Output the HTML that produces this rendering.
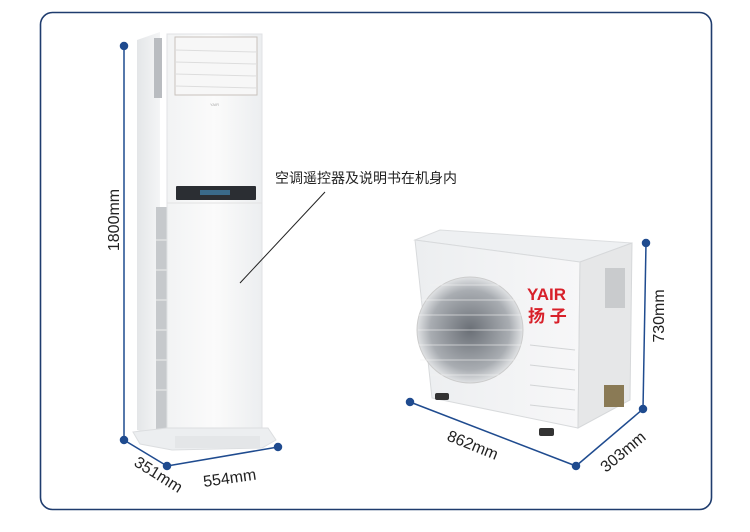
<!DOCTYPE html>
<html><head><meta charset="utf-8"><style>
html,body{margin:0;padding:0;background:#fff;}
svg{display:block;font-family:"Liberation Sans","Noto Sans CJK SC",sans-serif;}
</style></head><body>
<svg width="750" height="532" viewBox="0 0 750 532" xmlns="http://www.w3.org/2000/svg">
<defs>
<linearGradient id="side" x1="0" x2="1"><stop offset="0" stop-color="#e4e6e8"/><stop offset="1" stop-color="#f4f5f6"/></linearGradient>
<linearGradient id="front" x1="0" x2="1"><stop offset="0" stop-color="#f2f3f4"/><stop offset="0.5" stop-color="#fbfbfb"/><stop offset="1" stop-color="#eceef0"/></linearGradient>
<linearGradient id="od" x1="0" x2="1"><stop offset="0" stop-color="#eceef0"/><stop offset="1" stop-color="#f7f7f8"/></linearGradient>
<radialGradient id="fan"><stop offset="0" stop-color="#6a6f76"/><stop offset="0.75" stop-color="#a9adb2"/><stop offset="1" stop-color="#e0e2e4"/></radialGradient>
</defs>
<rect x="40.5" y="12.5" width="671" height="497" rx="12" fill="#fff" stroke="#1f3c6e" stroke-width="1.6"/>

<!-- Tower unit -->
<polygon points="137,40 160,32 160,437 137,430" fill="url(#side)"/>
<rect x="154" y="38" width="8" height="60" fill="#b9bcc0"/>
<rect x="156" y="207" width="11" height="225" fill="#c6c9cc"/>
<g stroke="#eee" stroke-width="1"><line x1="156" y1="240" x2="167" y2="240"/><line x1="156" y1="270" x2="167" y2="270"/><line x1="156" y1="300" x2="167" y2="300"/><line x1="156" y1="330" x2="167" y2="330"/><line x1="156" y1="360" x2="167" y2="360"/><line x1="156" y1="390" x2="167" y2="390"/></g>
<rect x="167" y="34" width="95" height="404" fill="url(#front)" stroke="#e0e2e4"/>
<rect x="175" y="37" width="82" height="58" fill="#f7f7f7" stroke="#c8c2bc"/>
<g stroke="#ddd"><line x1="175" y1="50" x2="257" y2="52"/><line x1="175" y1="62" x2="257" y2="64"/><line x1="175" y1="74" x2="257" y2="76"/><line x1="175" y1="86" x2="257" y2="88"/></g>
<rect x="176" y="186" width="80" height="14" fill="#2b2e33" rx="1"/>
<rect x="200" y="190" width="30" height="5" fill="#3a6a8a"/>
<line x1="167" y1="203" x2="262" y2="203" stroke="#e2e2e2"/>
<polygon points="133,432 167,428 268,428 276,440 262,448 172,450 140,444" fill="#eceef0" stroke="#dcdee0"/>
<rect x="175" y="436" width="85" height="12" fill="#e4e6e8"/>
<text x="210" y="106" font-size="4" fill="#aaa">YAIR</text>

<!-- tower dims -->
<g stroke="#1f4b8f" stroke-width="1.5" fill="#1f4b8f">
<line x1="124" y1="46" x2="124" y2="440"/>
<line x1="124" y1="440" x2="167" y2="466"/>
<line x1="167" y1="466" x2="278" y2="447"/>
<circle cx="124" cy="46" r="3.5"/><circle cx="124" cy="440" r="3.5"/><circle cx="167" cy="466" r="3.5"/><circle cx="278" cy="447" r="3.5"/>
</g>
<text transform="translate(119,220) rotate(-90)" text-anchor="middle" font-size="16" fill="#222">1800mm</text>
<text transform="translate(133,465) rotate(32)" font-size="16" fill="#222">351mm</text>
<text transform="translate(204,487) rotate(-8)" font-size="16" fill="#222">554mm</text>

<line x1="240" y1="283" x2="325" y2="192" stroke="#222" stroke-width="1"/>
<text x="275" y="183" font-size="14" fill="#222">空调遥控器及说明书在机身内</text>

<!-- Outdoor unit -->
<polygon points="415,240 440,230 632,243 580,262" fill="#eef0f2" stroke="#dcdee0"/>
<polygon points="415,240 580,262 578,428 432,398" fill="url(#od)" stroke="#d8dadc"/>
<polygon points="580,262 632,243 630,400 578,428" fill="#e6e7e8" stroke="#d6d8da"/>
<circle cx="470" cy="330" r="53" fill="url(#fan)" stroke="#ccc"/>
<g stroke="#f2f2f2" stroke-width="0.8" opacity="0.8">
<line x1="420" y1="300" x2="520" y2="300"/><line x1="418" y1="315" x2="522" y2="315"/><line x1="418" y1="330" x2="522" y2="330"/><line x1="418" y1="345" x2="522" y2="345"/><line x1="420" y1="360" x2="520" y2="360"/><line x1="430" y1="285" x2="510" y2="285"/><line x1="430" y1="375" x2="510" y2="375"/>
</g>
<g stroke="#d2d4d6"><line x1="530" y1="345" x2="575" y2="350"/><line x1="530" y1="365" x2="575" y2="370"/><line x1="530" y1="385" x2="575" y2="390"/><line x1="530" y1="405" x2="575" y2="410"/></g>
<text x="527" y="300" font-size="17" font-weight="bold" fill="#d8202a">YAIR</text>
<text x="528" y="322" font-size="17" font-weight="bold" fill="#d8202a">扬 子</text>
<rect x="605" y="268" width="20" height="40" fill="#c9cbcd"/>
<rect x="604" y="385" width="20" height="22" fill="#8a7a55"/>
<rect x="435" y="393" width="14" height="7" fill="#333" rx="2"/>
<rect x="539" y="428" width="15" height="8" fill="#333" rx="2"/>

<!-- outdoor dims -->
<g stroke="#1f4b8f" stroke-width="1.5" fill="#1f4b8f">
<line x1="410" y1="402" x2="576" y2="466"/>
<line x1="576" y1="466" x2="643" y2="409"/>
<line x1="643" y1="409" x2="646" y2="243"/>
<circle cx="410" cy="402" r="3.5"/><circle cx="576" cy="466" r="3.5"/><circle cx="643" cy="409" r="3.5"/><circle cx="646" cy="243" r="3.5"/>
</g>
<text transform="translate(664,316) rotate(-90)" text-anchor="middle" font-size="16" fill="#222">730mm</text>
<text transform="translate(446,440) rotate(22)" font-size="16" fill="#222">862mm</text>
<text transform="translate(606,473) rotate(-40)" font-size="16" fill="#222">303mm</text>
</svg>
</body></html>
